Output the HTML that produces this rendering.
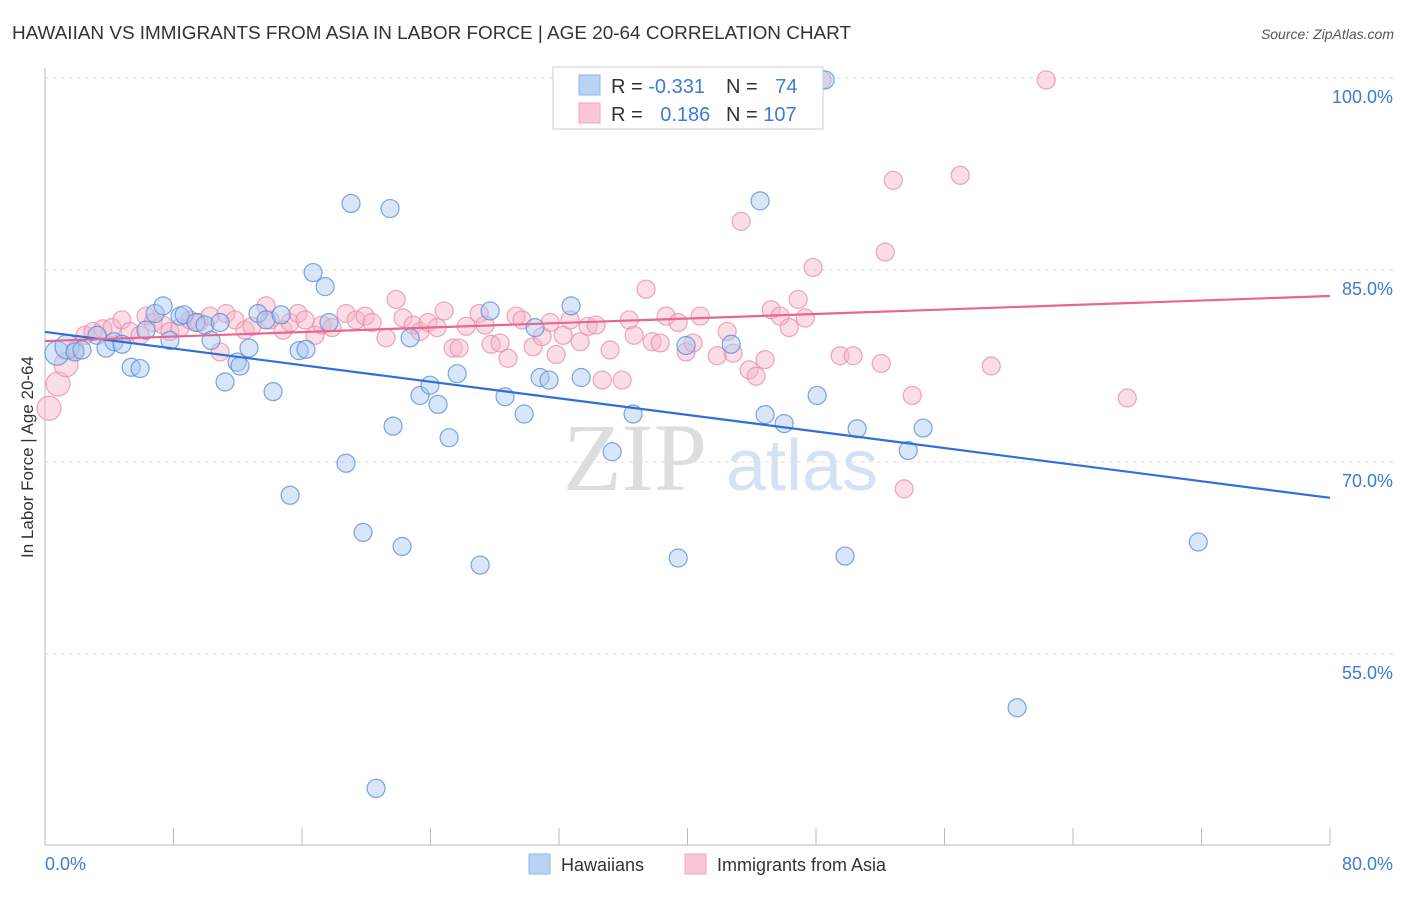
<!DOCTYPE html>
<html><head><meta charset="utf-8"><style>
body{margin:0;background:#fff;width:1406px;height:892px;overflow:hidden;font-family:"Liberation Sans",sans-serif}
</style></head><body>
<svg width="1406" height="892" id="svg" xmlns="http://www.w3.org/2000/svg">
<text x="12" y="39" font-size="18" fill="#333" textLength="839" lengthAdjust="spacingAndGlyphs">HAWAIIAN VS IMMIGRANTS FROM ASIA IN LABOR FORCE | AGE 20-64 CORRELATION CHART</text>
<text x="1394" y="39" font-size="14" fill="#555" font-style="italic" text-anchor="end">Source: ZipAtlas.com</text>
<text x="33" y="457" font-size="17" fill="#333" text-anchor="middle" transform="rotate(-90 33 457)">In Labor Force | Age 20-64</text>
<text x="635" y="490" font-size="96" fill="#ddd" font-family="Liberation Serif,serif" text-anchor="middle">ZIP</text>
<text x="802" y="490" font-size="72" fill="#d4e2f4" text-anchor="middle">atlas</text>
<g id="grid"></g><g id="pts"></g><g id="lines"></g>
<g>
<rect x="553" y="67" width="270" height="62" fill="#fff" stroke="#ccc"/>
<rect x="579" y="75" width="21" height="20" fill="#b9d3f5" stroke="#8fb4e8"/>
<rect x="579" y="103" width="21" height="20" fill="#fbc6d6" stroke="#f0a4bd"/>
<text x="611" y="93" font-size="20" fill="#333">R = <tspan fill="#3d7bd6">-0.331</tspan></text>
<text x="726" y="93" font-size="20" fill="#333">N = <tspan fill="#3d7bd6" dx="12">74</tspan></text>
<text x="611" y="121" font-size="20" fill="#333">R = <tspan fill="#3d7bd6" dx="12">0.186</tspan></text>
<text x="726" y="121" font-size="20" fill="#333">N = <tspan fill="#3d7bd6">107</tspan></text>
</g>
<g>
<rect x="529" y="854" width="21" height="20" fill="#b9d3f5" stroke="#8fb4e8"/>
<text x="561" y="871" font-size="18" fill="#333">Hawaiians</text>
<rect x="685" y="854" width="21" height="20" fill="#fbc6d6" stroke="#f0a4bd"/>
<text x="717" y="871" font-size="18" fill="#333">Immigrants from Asia</text>
</g>
</svg>
<script>
const yTicks=[100,85,70,55];
const yTickLabels=["100.0%","85.0%","70.0%","55.0%"];
const xTicks=[0,8,16,24,32,40,48,56,64,72,80];
const blueX=[0.75,1.37,1.87,2.30,3.24,3.80,4.30,4.79,5.36,5.92,6.29,6.85,7.35,7.78,8.41,8.66,9.40,9.96,10.34,10.90,11.21,11.96,12.14,12.70,13.26,13.76,14.20,14.70,15.26,15.82,16.25,16.69,17.44,17.68,18.74,19.05,19.80,21.48,21.67,22.23,22.73,23.35,23.97,24.47,25.16,25.66,27.09,27.71,28.64,29.83,30.51,30.82,31.38,32.75,33.38,35.31,36.61,39.42,39.91,42.72,44.52,44.83,46.02,48.07,48.57,49.81,50.56,53.74,54.67,60.52,71.80,20.61];
const blueY=[78.5,79.0,78.6,78.75,79.9,78.9,79.4,79.2,77.4,77.3,80.3,81.6,82.2,79.5,81.4,81.5,80.9,80.7,79.5,80.9,76.25,77.8,77.5,78.9,81.6,81.1,75.5,81.5,67.4,78.7,78.8,84.8,83.7,80.9,69.9,90.2,64.5,89.8,72.8,63.4,79.7,75.2,76.0,74.5,71.9,76.9,61.95,81.8,75.1,73.75,80.5,76.6,76.4,82.2,76.6,70.8,73.75,62.5,79.1,79.2,90.4,73.7,73.0,75.2,99.85,62.65,72.6,70.9,72.65,50.8,63.75,44.5];
const pinkX=[0.25,0.81,1.31,1.87,2.49,2.99,3.61,4.17,4.79,5.29,5.92,6.29,6.73,7.35,7.78,8.41,9.03,9.59,10.27,10.90,11.27,11.83,12.45,12.89,13.76,14.01,14.82,15.26,15.75,16.19,16.81,17.25,17.87,18.74,19.37,19.93,20.36,21.23,21.86,22.29,22.92,23.35,23.85,24.41,24.85,25.41,25.78,26.22,27.03,27.40,27.77,28.33,28.83,29.33,29.70,30.39,30.95,31.45,31.82,32.26,32.69,33.32,33.81,34.31,34.69,35.18,35.93,36.37,36.68,37.42,37.80,38.30,38.67,39.42,39.91,40.35,40.79,41.85,42.47,42.84,43.34,43.84,44.27,44.83,45.21,45.77,46.33,46.89,47.33,47.82,48.38,49.50,50.31,52.06,52.31,52.81,53.49,53.99,56.98,58.91,62.33,67.38];
const pinkY=[74.2,76.1,77.6,78.75,79.9,80.2,80.4,80.5,81.1,80.2,79.9,81.4,80.9,80.7,80.2,80.5,81.1,80.9,81.4,78.6,81.6,81.1,80.3,80.6,82.2,81.1,80.3,80.9,81.6,81.1,79.9,80.7,80.5,81.6,81.1,81.4,80.9,79.7,82.7,81.25,80.7,80.2,80.9,80.5,81.8,78.9,78.9,80.6,81.6,80.7,79.2,79.3,78.1,81.4,81.1,79.0,79.8,80.9,78.4,79.9,81.1,79.4,80.6,80.7,76.4,78.75,76.4,81.1,79.9,83.5,79.4,79.3,81.4,80.9,78.6,79.3,81.4,78.3,80.2,78.5,88.8,77.2,76.7,78.0,81.9,81.4,80.5,82.7,81.25,85.2,99.85,78.3,78.3,77.7,86.4,92.0,67.9,75.2,92.4,77.5,99.85,75.0];
const blueTrend=[80.16,67.2];
const pinkTrend=[79.45,82.97];
const X=v=>45+v*(1285/80);
const Y=v=>78+(100-v)*12.8;
const NS="http://www.w3.org/2000/svg";
function mk(tag,attrs,parent){const e=document.createElementNS(NS,tag);for(const k in attrs)e.setAttribute(k,attrs[k]);parent.appendChild(e);return e;}
const grid=document.getElementById('grid');
yTicks.forEach((t,i)=>{
 const l=mk('line',{x1:45,x2:1394,y1:Y(t),y2:Y(t),stroke:'#ddd','stroke-dasharray':'4,4'},grid);
 
 
 const tx=mk('text',{x:1393,y:Y(t)+25,'font-size':18,fill:'#3d7bd6','text-anchor':'end'},grid);
 tx.textContent=yTickLabels[i];
 
 
});
const ax=mk('line',{x1:45,x2:45,y1:68,y2:845,stroke:'#bbb'},grid);


const bx=mk('line',{x1:45,x2:1330,y1:845,y2:845,stroke:'#bbb'},grid);


xTicks.forEach(t=>{
 const l=mk('line',{x1:X(t),x2:X(t),y1:828,y2:845,stroke:'#bbb'},grid);
 
 
});
[[0,'0.0%','start',45],[80,'80.0%','end',1393]].forEach(a=>{
 const tx=mk('text',{x:a[3],y:870,'font-size':18,fill:'#3d7bd6','text-anchor':a[2]},grid);
 tx.textContent=a[1];
 
 
});
const pts=document.getElementById('pts');
function dots(xs,ys,fill,stroke,name){xs.forEach((x,i)=>{
 const r=(x<1.5)?12:9;
 const c=mk('circle',{cx:X(x),cy:Y(ys[i]),r:r,fill:fill,'fill-opacity':0.45,stroke:stroke,'stroke-opacity':0.8,'stroke-width':1.2},pts);
 
 
});}
dots(pinkX,pinkY,'#f7b3c8','#ea8fad','point-immigrants-asia');
dots(blueX,blueY,'#a9c8f0','#5b8fd9','point-hawaiians');
const lines=document.getElementById('lines');
const b=mk('line',{x1:X(0),x2:X(80),y1:Y(blueTrend[0]),y2:Y(blueTrend[1]),stroke:'#2f6fd8','stroke-width':2.2},lines);


const p=mk('line',{x1:X(0),x2:X(80),y1:Y(pinkTrend[0]),y2:Y(pinkTrend[1]),stroke:'#e8668f','stroke-width':2.2},lines);


</script>
</body></html>
